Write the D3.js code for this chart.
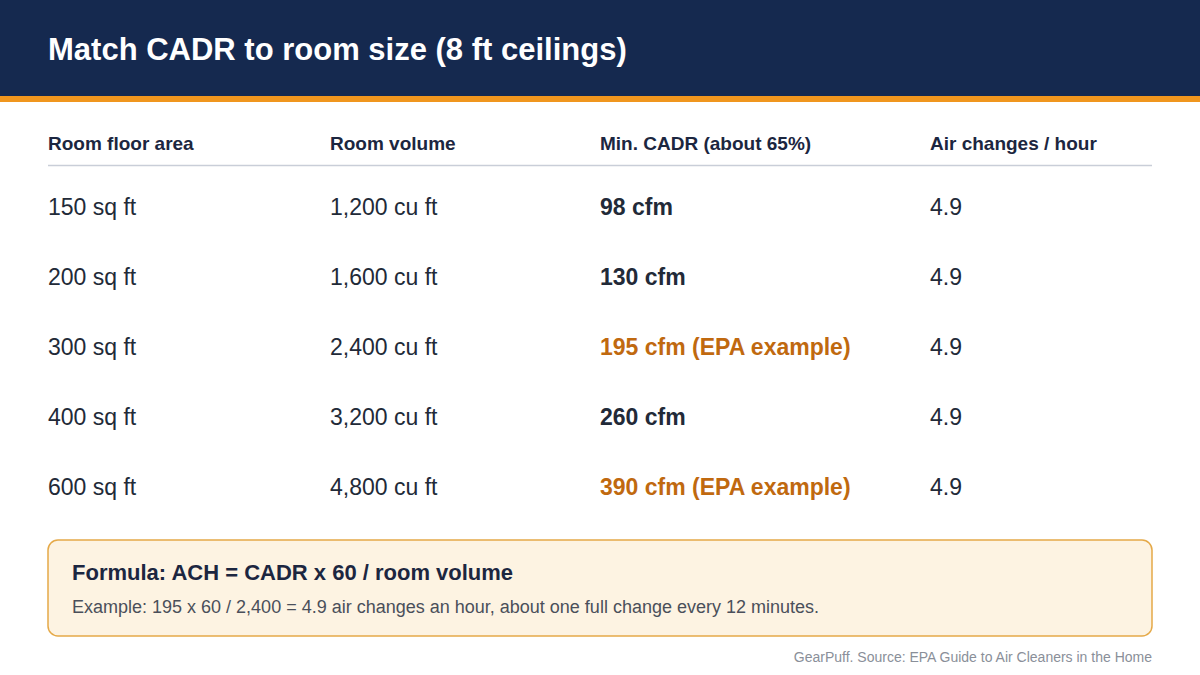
<!DOCTYPE html>
<html><head><meta charset="utf-8">
<script src="https://cdn.jsdelivr.net/npm/d3@7"></script>
<style>body{margin:0;background:#fff}svg{display:block;font-family:"Liberation Sans",Arial,sans-serif}</style>
</head><body>
<svg id="chart" width="1200" height="675"></svg>
<script>
var title = "Match CADR to room size (8 ft ceilings)";
var headers = ["Room floor area", "Room volume", "Min. CADR (about 65%)", "Air changes / hour"];
var areas = ["150 sq ft", "200 sq ft", "300 sq ft", "400 sq ft", "600 sq ft"];
var volumes = ["1,200 cu ft", "1,600 cu ft", "2,400 cu ft", "3,200 cu ft", "4,800 cu ft"];
var cadr = ["98 cfm", "130 cfm", "195 cfm (EPA example)", "260 cfm", "390 cfm (EPA example)"];
var epaExample = [false, false, true, false, true];
var ach = ["4.9", "4.9", "4.9", "4.9", "4.9"];
var formula = "Formula: ACH = CADR x 60 / room volume";
var example = "Example: 195 x 60 / 2,400 = 4.9 air changes an hour, about one full change every 12 minutes.";
var source = "GearPuff. Source: EPA Guide to Air Cleaners in the Home";

var svg = d3.select("#chart");
var navy = "#15294f", ink = "#1c2640", orange = "#c0690f";

svg.append("rect").attr("width", 1200).attr("height", 96).attr("fill", navy);
svg.append("rect").attr("y", 96).attr("width", 1200).attr("height", 6).attr("fill", "#f0961e");
svg.append("text").attr("x", 48).attr("y", 60).attr("fill", "#fff")
  .attr("font-size", 31).attr("font-weight", "bold").text(title);

var colX = d3.scaleOrdinal().domain(d3.range(4)).range([48, 330, 600, 930]);
var rowY = d3.scaleBand().domain(d3.range(areas.length)).range([172, 522]);

svg.selectAll(".hdr").data(headers).join("text")
  .attr("x", function(d, i) { return colX(i); }).attr("y", 150)
  .attr("font-size", 19).attr("font-weight", "bold").attr("fill", ink).text(function(d) { return d; });
svg.append("line").attr("x1", 48).attr("x2", 1152).attr("y1", 165.5).attr("y2", 165.5)
  .attr("stroke", "#c9ced8").attr("stroke-width", 1.5);

var rows = svg.selectAll(".row").data(areas).join("g")
  .attr("transform", function(d, i) { return "translate(0," + (rowY(i) + rowY.bandwidth() / 2 + 8) + ")"; });
rows.each(function(d, i) {
  var g = d3.select(this);
  var cells = [areas[i], volumes[i], cadr[i], ach[i]];
  cells.forEach(function(c, j) {
    g.append("text").attr("x", colX(j)).attr("font-size", 23)
      .attr("font-weight", j === 2 ? "bold" : "normal")
      .attr("fill", j === 2 && epaExample[i] ? orange : "#222a38").text(c);
  });
});

svg.append("rect").attr("x", 48).attr("y", 540).attr("width", 1104).attr("height", 96)
  .attr("rx", 10).attr("fill", "#fdf3e2").attr("stroke", "#e5a948").attr("stroke-width", 1.5);
svg.append("text").attr("x", 72).attr("y", 580).attr("font-size", 22).attr("font-weight", "bold")
  .attr("fill", ink).text(formula);
svg.append("text").attr("x", 72).attr("y", 613).attr("font-size", 18).attr("fill", "#4a4f5a").text(example);
svg.append("text").attr("x", 1152).attr("y", 662).attr("text-anchor", "end").attr("font-size", 14)
  .attr("fill", "#8a8f99").text(source);
</script>
</body></html>
